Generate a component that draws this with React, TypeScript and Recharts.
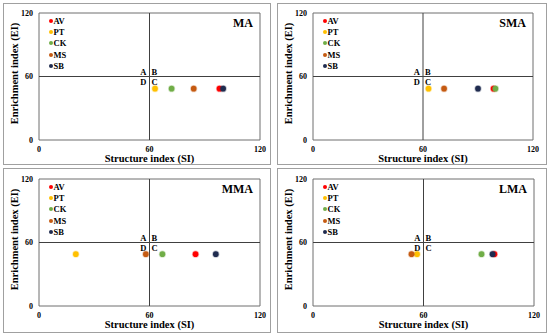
import React from 'react';
import {
  ScatterChart,
  Scatter,
  XAxis,
  YAxis,
  ReferenceLine,
  ReferenceArea,
  ReferenceDot,
  Legend,
} from 'recharts';

const categories = ['AV', 'PT', 'CK', 'MS', 'SB'];
const colors = ['#ff0000', '#ffc000', '#70ad47', '#c55a11', '#1f2b4f'];
const panelNames = ['MA', 'SMA', 'MMA', 'LMA'];

// Structure index (SI) per category, per panel
const siMA = [98, 63, 72, 84, 100];
const siSMA = [98.5, 63, 99.5, 71.5, 90];
const siMMA = [85, 20, 67, 58, 96];
const siLMA = [98.5, 56.5, 91.5, 53.5, 97.5];

// Enrichment index (EI) per category, per panel
const eiMA = [48.5, 48.5, 48.5, 48.5, 48.5];
const eiSMA = [48.5, 48.5, 48.5, 48.5, 48.5];
const eiMMA = [49, 49, 49, 49, 49];
const eiLMA = [49, 49, 49, 49, 49];

const axisTicks = [0, 60, 120];
const quadrantLabels = ['A', 'B', 'D', 'C'];

const FONT = '"Liberation Serif", "Times New Roman", serif';

const panels = [
  { name: panelNames[0], si: siMA, ei: eiMA, left: 3, top: 3, w: 268, h: 162, mt: 10, mr: 11, xh: 25 },
  { name: panelNames[1], si: siSMA, ei: eiSMA, left: 277, top: 3, w: 270, h: 162, mt: 10, mr: 14, xh: 25 },
  { name: panelNames[2], si: siMMA, ei: eiMMA, left: 3, top: 168, w: 268, h: 165, mt: 11, mr: 11, xh: 27 },
  { name: panelNames[3], si: siLMA, ei: eiLMA, left: 277, top: 168, w: 270, h: 165, mt: 11, mr: 13, xh: 27 },
];

const Dot = (props: any) => {
  const { cx, cy, fill } = props;
  if (cx == null || cy == null) return null;
  return (
    <g>
      <circle cx={cx} cy={cy} r={3.6} fill={fill} opacity={0.3} />
      <circle cx={cx} cy={cy} r={2.8} fill={fill} />
    </g>
  );
};

const LegendContent = (props: any) => {
  const payload = [...(props.payload || [])].sort(
    (a: any, b: any) => categories.indexOf(a.value) - categories.indexOf(b.value)
  );
  return (
    <div style={{ fontFamily: FONT, fontWeight: 'bold', fontSize: 8.5, color: '#000' }}>
      {payload.map((p: any) => (
        <div key={p.value} style={{ height: 11.2, display: 'flex', alignItems: 'center' }}>
          <span
            style={{
              display: 'inline-block',
              width: 4,
              height: 4,
              borderRadius: '50%',
              background: p.color,
              marginRight: 1,
            }}
          />
          <span>{p.value}</span>
        </div>
      ))}
    </div>
  );
};

function Panel({ cfg }: { cfg: any }) {
  const textStyle = { fontFamily: FONT, fontWeight: 'bold' as const, fill: '#000' };
  return (
    <>
      <div
        style={{
          position: 'absolute',
          left: cfg.left,
          top: cfg.top,
          width: cfg.w,
          height: cfg.h,
          border: '1px solid #a0a0a0',
          boxSizing: 'border-box',
        }}
      />
      <div style={{ position: 'absolute', left: cfg.left, top: cfg.top }}>
        <ScatterChart
          width={cfg.w}
          height={cfg.h}
          margin={{ top: cfg.mt, right: cfg.mr, left: 0, bottom: 0 }}
        >
          <XAxis
            type="number"
            dataKey="x"
            domain={[0, 120]}
            ticks={axisTicks}
            axisLine={false}
            tickLine={false}
            tickSize={4}
            tickMargin={2}
            height={cfg.xh}
            tick={{ fontSize: 8, ...textStyle }}
            label={{
              content: (p: any) => {
                const vb = p.viewBox;
                return (
                  <text
                    x={vb.x + vb.width / 2}
                    y={vb.y + 21.5}
                    textAnchor="middle"
                    fontSize={10.5}
                    {...textStyle}
                  >
                    Structure index (SI)
                  </text>
                );
              },
            }}
          />
          <YAxis
            type="number"
            dataKey="y"
            domain={[0, 120]}
            ticks={axisTicks}
            axisLine={false}
            tickLine={false}
            tickSize={4}
            tickMargin={2}
            width={36}
            tick={{ fontSize: 8, ...textStyle }}
            label={{
              content: (p: any) => {
                const vb = p.viewBox;
                const cx = vb.x + 11;
                const cy = vb.y + vb.height / 2 - 3;
                return (
                  <text
                    x={cx}
                    y={cy}
                    transform={`rotate(-90 ${cx} ${cy})`}
                    textAnchor="middle"
                    dominantBaseline="central"
                    fontSize={10.5}
                    {...textStyle}
                  >
                    Enrichment index (EI)
                  </text>
                );
              },
            }}
          />
          <ReferenceArea
            x1={0}
            x2={120}
            y1={0}
            y2={120}
            fill="none"
            stroke="#6e6e6e"
            strokeWidth={1}
            fillOpacity={0}
            label={{
              content: (p: any) => {
                const vb = p.viewBox;
                return (
                  <text
                    x={vb.x + vb.width - 7}
                    y={vb.y + 14}
                    textAnchor="end"
                    fontSize={12}
                    {...textStyle}
                  >
                    {cfg.name}
                  </text>
                );
              },
            }}
          />
          <ReferenceLine x={60} stroke="#404040" strokeWidth={1} />
          <ReferenceLine y={60} stroke="#404040" strokeWidth={1} />
          <ReferenceDot
            x={60}
            y={60}
            r={0}
            fill="none"
            stroke="none"
            label={{
              content: (p: any) => {
                const vb = p.viewBox;
                const cx = vb.x;
                const cy = vb.y;
                return (
                  <g fontSize={8.5} style={{ fontFamily: FONT, fontWeight: 'bold' }} fill="#000">
                    <text x={cx - 3} y={cy - 2} textAnchor="end">{quadrantLabels[0]}</text>
                    <text x={cx + 2} y={cy - 2} textAnchor="start">{quadrantLabels[1]}</text>
                    <text x={cx - 3} y={cy + 8.5} textAnchor="end">{quadrantLabels[2]}</text>
                    <text x={cx + 2} y={cy + 8.5} textAnchor="start">{quadrantLabels[3]}</text>
                  </g>
                );
              },
            }}
          />
          <Legend
            layout="vertical"
            align="center"
            verticalAlign="middle"
            itemSorter={null as any}
            content={<LegendContent />}
            wrapperStyle={{ left: 45.5, top: cfg.mt + 2.4, width: 40, height: 60 }}
          />
          {categories.map((c, i) => (
            <Scatter
              key={c}
              name={c}
              data={[{ x: cfg.si[i], y: cfg.ei[i] }]}
              fill={colors[i]}
              shape={<Dot />}
              isAnimationActive={false}
            />
          ))}
        </ScatterChart>
      </div>
    </>
  );
}

export default function App() {
  return (
    <div
      style={{
        position: 'absolute',
        left: 0,
        top: 0,
        width: 550,
        height: 335,
        background: '#fff',
      }}
    >
      {panels.map((cfg) => (
        <Panel key={cfg.name} cfg={cfg} />
      ))}
    </div>
  );
}
